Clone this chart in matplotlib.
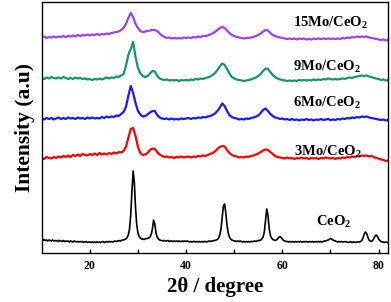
import matplotlib
matplotlib.use("Agg")
import matplotlib.pyplot as plt
import numpy as np

plt.rcParams['font.family'] = ['Liberation Serif', 'DejaVu Serif']
plt.rcParams['font.weight'] = 'bold'
plt.rcParams['mathtext.fontset'] = 'custom'
plt.rcParams['mathtext.rm'] = 'Liberation Serif:bold'
plt.rcParams['mathtext.bf'] = 'Liberation Serif:bold'

# 2theta grids (degree)
twoThetaFine = np.arange(10, 82.001, 0.25)
twoTheta = np.arange(10, 82.001, 0.5)

# intensities (a.u.), stacked as in the figure
ceo2 = [13, 12.5, 13.5, 12.5, 13, 12, 13, 12.5, 12, 13, 12, 12.5,
        12, 12.5, 11.5, 12.5, 12, 11.5, 12.5, 11.5, 12, 11.5, 12, 11,
        12, 11.5, 11, 12, 11.5, 11, 11.5, 11, 11.5, 11, 11.5, 10.5,
        11, 11.5, 10.5, 11, 11, 10.5, 11, 10.5, 11, 10.5, 11, 10.5,
        11, 10.5, 11, 11.5, 10.5, 11, 11.5, 11, 11.5, 11, 11.5, 11,
        11.5, 12, 11.5, 12, 12, 12.5, 12, 13, 13, 13.5, 14, 15.5,
        18, 24, 38, 62, 82, 70, 45, 28, 20, 16.5, 15, 14,
        14, 13.5, 14, 14.5, 14.5, 15, 16, 18.5, 24, 33, 29, 20,
        16, 14, 13, 12.5, 12.5, 12, 12.5, 12, 12, 12.5, 11.5, 12,
        12, 11.5, 12, 11.5, 12, 11.5, 12, 11.5, 11.5, 12, 11.5, 12,
        11.5, 12, 11.5, 11, 11.5, 11, 11.5, 11.5, 11, 11.5, 11, 11.5,
        11, 11.5, 11, 11.5, 11.5, 11, 11.5, 12, 11.5, 12, 12, 12.5,
        12.5, 13, 13.5, 15, 18, 24, 35, 47, 49, 40, 28, 20,
        16, 14, 13, 12.5, 12, 12, 11.5, 12, 11.5, 12, 11.5, 11,
        11.5, 11, 11.5, 11, 11.5, 11, 11.5, 11.5, 11.5, 12, 11.5, 12,
        12.5, 12.5, 13, 14, 16, 21, 32, 44, 38, 25, 18, 15,
        13.5, 13, 12.5, 13, 14, 15.5, 16.5, 15.5, 14, 12.5, 12, 11.5,
        11.5, 11, 11.5, 11, 11.5, 11, 11, 11.5, 11, 11.5, 11, 11.5,
        11, 11, 11.5, 11, 11.5, 11, 11, 11.5, 11, 11.5, 11, 11,
        11.5, 11, 11.5, 11, 11.5, 11, 11.5, 12, 12, 12.5, 13, 13.5,
        14.5, 14, 13, 12.5, 12, 11.5, 11, 11.5, 11, 11.5, 11, 11,
        11.5, 11, 11, 10.5, 11, 11, 10.5, 11, 11, 10.5, 11, 11,
        11, 11.5, 12.5, 15, 19, 21, 19.5, 16, 13, 12, 11.5, 12.5,
        14.5, 17, 18, 16.5, 14, 12.5, 11.5, 11, 11, 10.5, 11, 10.5,
        10.5]

mo3 = [95, 94, 96, 95, 94.5, 96, 95, 96.5, 95.5, 97,
       96, 97.5, 96, 98, 97, 98.5, 97, 99, 98, 97.5,
       99, 98, 99.5, 98, 100, 98.5, 99.5, 98.5, 100, 99,
       100.5, 99.5, 101, 100.5, 102, 106, 115, 124, 125, 117,
       106, 100, 98, 98.5, 100, 103, 104.5, 104, 101, 98.5,
       97, 96, 96.5, 95.5, 96, 95, 96, 95.5, 96.5, 95.5,
       96, 96.5, 95.5, 96.5, 96, 97, 96.5, 97.5, 97, 98,
       99, 100, 101.5, 104, 106, 107, 106.5, 103, 100, 98,
       97, 96.5, 95.5, 96, 95.5, 96.5, 96, 97, 97.5, 98.5,
       99.5, 101, 102.5, 103.5, 103, 101, 99, 97, 96, 95.5,
       95, 94.5, 95.5, 94.5, 95, 94, 95, 94.5, 95.5, 94.5,
       95, 94, 95, 94.5, 95, 94, 95, 94.5, 95.5, 95,
       94.5, 95, 94, 95, 94.5, 95.5, 95, 96, 95.5, 96.5,
       96, 97, 96.5, 97.5, 97, 97.5, 96.5, 97, 96, 95,
       94.5, 93.5, 93, 92, 92.5]

mo6 = [134.5, 133.5, 135, 134, 135, 133.5, 134.5, 135.5, 134, 135,
       134, 135.5, 134.5, 135, 134, 135.5, 134.5, 135, 134, 135.5,
       134.5, 135.5, 134.5, 135, 134.5, 136, 135, 136.5, 135.5, 136.5,
       136, 137.5, 137, 139, 141, 146, 157, 167, 160, 150,
       142, 138.5, 136.5, 137, 138.5, 140.5, 142, 142, 138, 135.5,
       134.5, 134, 134.5, 133.5, 134.5, 133.5, 134, 133.5, 134.5, 134,
       134.5, 135, 134, 135, 134.5, 135.5, 135, 136, 135.5, 136.5,
       137, 138, 139.5, 142, 145.5, 149.5, 147, 142, 138, 136,
       135, 134.5, 133.5, 134, 133.5, 134.5, 134, 135, 135.5, 136.5,
       137.5, 140, 143, 144.5, 142, 139, 137, 135.5, 135, 134,
       134.5, 133.5, 134, 133, 134, 133, 133.5, 132.5, 133.5, 133,
       134, 133, 133.5, 132.5, 133.5, 133, 134, 133, 133.5, 134,
       133, 133.5, 133, 134, 133.5, 134.5, 134, 135, 134.5, 135.5,
       135, 136, 135.5, 136.5, 136, 136.5, 135.5, 135, 134.5, 134,
       133.5, 133, 133.5, 132.5, 133]

mo9 = [175, 174, 175.5, 174.5, 176, 175, 174.5, 175.5, 174.5, 176,
       175, 174, 175, 174, 175.5, 174.5, 175, 174, 174.5, 173.5,
       174, 173, 174, 173.5, 174.5, 173.5, 174.5, 175.5, 174.5, 175.5,
       175, 176.5, 176, 177.5, 179, 187, 198, 204, 211, 196,
       185, 179.5, 177, 176, 177, 179.5, 182, 181.5, 177, 174.5,
       173.5, 173, 173.5, 172.5, 173, 172.5, 173, 172, 173, 172.5,
       173, 172.5, 173.5, 173, 174, 173.5, 174.5, 174, 175, 175.5,
       176.5, 178, 180, 183, 186.5, 189.5, 188, 184, 179.5, 176,
       174.5, 173.5, 173, 172.5, 172, 172.5, 173, 173.5, 174.5, 175.5,
       177, 179, 182, 184.5, 184, 181, 178, 176, 174.5, 173.5,
       173, 172.5, 172, 172.5, 172, 172.5, 172, 173, 172.5, 173,
       172.5, 173, 172.5, 173.5, 173, 173.5, 173, 174, 173.5, 174.5,
       174, 173.5, 174, 173.5, 174, 174.5, 174, 175, 175.5, 175,
       176, 176.5, 177, 177.5, 177, 177.5, 176.5, 176, 175, 174.5,
       174, 173, 173.5, 172.5, 173]

mo15 = [215.5, 216.5, 215, 216, 215.5, 216.5, 215.5, 216.5, 216, 217,
        216, 217, 216.5, 217.5, 216.5, 218, 217, 218, 217.5, 218.5,
        217.5, 218.5, 218, 219, 218, 219, 218.5, 219.5, 219, 220,
        220.5, 221, 221.5, 223, 225, 229, 235, 240, 236, 229,
        225, 222, 221, 221.5, 222, 222.5, 223, 223, 222, 219.5,
        217.5, 216, 215, 215.5, 214.5, 215, 214.5, 215, 214.5, 215.5,
        215, 215.5, 215, 216, 215.5, 216.5, 216, 217, 217, 217.5,
        218.5, 219.5, 221, 223, 225, 226, 225, 222.5, 220, 218,
        217, 216, 215.5, 215, 214.5, 215, 215, 215.5, 216, 217,
        218, 219.5, 221.5, 223, 222.5, 220, 218, 217, 216, 215.5,
        215, 214.5, 214, 214.5, 214, 214.5, 213.5, 214.5, 214, 214.5,
        213.5, 214, 213.5, 214.5, 214, 214.5, 214, 214.5, 214, 214.5,
        214, 214.5, 214, 214.5, 214, 215, 214.5, 215.5, 215, 216,
        215.5, 216.5, 216, 216.5, 216, 216.5, 215.5, 215, 214.5, 214,
        213.5, 213, 213.5, 212.5, 213]

labels = ['CeO$_\\mathbf{2}$', '3Mo/CeO$_\\mathbf{2}$', '6Mo/CeO$_\\mathbf{2}$',
          '9Mo/CeO$_\\mathbf{2}$', '15Mo/CeO$_\\mathbf{2}$']
colors = ['black', '#ff0000', '#1a1aff', '#17946a', '#a040f5']
labelX = [67.0, 62.4, 62.2, 62.2, 62.2]
labelY = [28, 98, 146.3, 183, 226.3]

fig = plt.figure(figsize=(3.91, 3.02), dpi=100)
ax = fig.add_axes([0.1066, 0.1623, 0.8864, 0.8311])

ax.plot(twoThetaFine, ceo2, color=colors[0], lw=1.2)
for data, col in zip([mo3, mo6, mo9, mo15], colors[1:]):
    ax.plot(twoTheta, data, color=col, lw=1.6)

for lab, lx, ly in zip(labels, labelX, labelY):
    ax.text(lx, ly, lab, fontsize=10.5, fontweight='bold', va='baseline', ha='left')

ax.set_xlim(10, 82)
ax.set_ylim(0, 251)
ax.set_xticks([20, 40, 60, 80])
ax.set_xticks([30, 50, 70], minor=True)
ax.set_yticks([])
ax.tick_params(axis='x', which='both', direction='in', length=3, width=1.0,
               labelsize=8.5, pad=5)
for lbl in ax.get_xticklabels():
    lbl.set_fontweight('bold')
for sp in ax.spines.values():
    sp.set_linewidth(1.0)

ax.set_xlabel('2θ / degree', fontsize=15, fontweight='bold', labelpad=4)
ax.set_ylabel('Intensity (a.u)', fontsize=15.5, fontweight='bold', labelpad=5)

fig.savefig('out.png', dpi=100)
